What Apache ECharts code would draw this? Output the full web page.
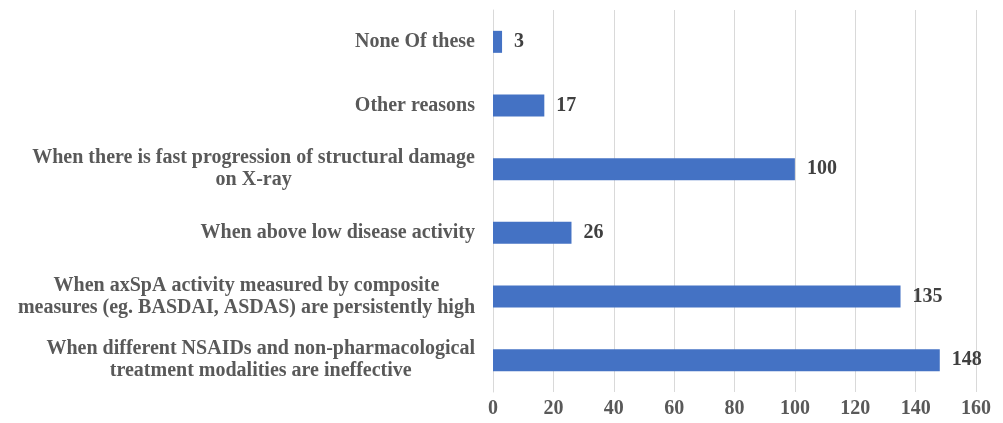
<!DOCTYPE html>
<html>
<head>
<meta charset="utf-8">
<style>
html,body{margin:0;padding:0;background:#fff;}
#chart{width:1003px;height:423px;}
</style>
<script src="https://cdn.jsdelivr.net/npm/echarts@6/dist/echarts.min.js"></script>
</head>
<body>
<div id="chart"></div>
<script>
// Categories listed bottom to top
var categories = [
  "When different NSAIDs and non-pharmacological\ntreatment modalities are ineffective",
  "When axSpA activity measured by composite\nmeasures (eg. BASDAI, ASDAS) are persistently high",
  "When above low disease activity",
  "When there is fast progression of structural damage\non X-ray",
  "Other reasons",
  "None Of these"
];
var counts = [148, 135, 26, 100, 17, 3];
var xTicks = { min: 0, max: 160, interval: 20 };

var chart = echarts.init(document.getElementById('chart'), null, {renderer: 'canvas'});
var font = '"Liberation Serif", "Times New Roman", serif';
chart.setOption({
  animation: false,
  grid: { left: 493, right: 27, top: 10, bottom: 31, containLabel: false },
  xAxis: {
    type: 'value',
    min: xTicks.min, max: xTicks.max, interval: xTicks.interval,
    axisLine: { show: false },
    axisTick: { show: false },
    splitLine: { show: true, lineStyle: { color: '#d9d9d9', width: 1 } },
    axisLabel: { color: '#595959', fontFamily: font, fontWeight: 'bold', fontSize: 20, margin: 7 }
  },
  yAxis: {
    type: 'category',
    data: categories,
    axisLine: { show: true, lineStyle: { color: '#d9d9d9', width: 1 } },
    axisTick: { show: false },
    axisLabel: {
      color: '#595959', fontFamily: font, fontWeight: 'bold', fontSize: 20,
      lineHeight: 22, margin: 18, align: 'right',
      formatter: function (v) {
        return v.split('\n').map(function (l) { return '{c|' + l + '}'; }).join('\n');
      },
      rich: {
        c: { align: 'center', color: '#595959', fontFamily: font, fontWeight: 'bold', fontSize: 20, lineHeight: 22 }
      }
    }
  },
  series: [{
    type: 'bar',
    data: counts,
    barWidth: 22,
    itemStyle: { color: '#4472C4' },
    label: {
      show: true, position: 'right', distance: 12,
      color: '#404040', fontFamily: font, fontWeight: 'bold', fontSize: 20
    }
  }]
});
</script>
</body>
</html>
